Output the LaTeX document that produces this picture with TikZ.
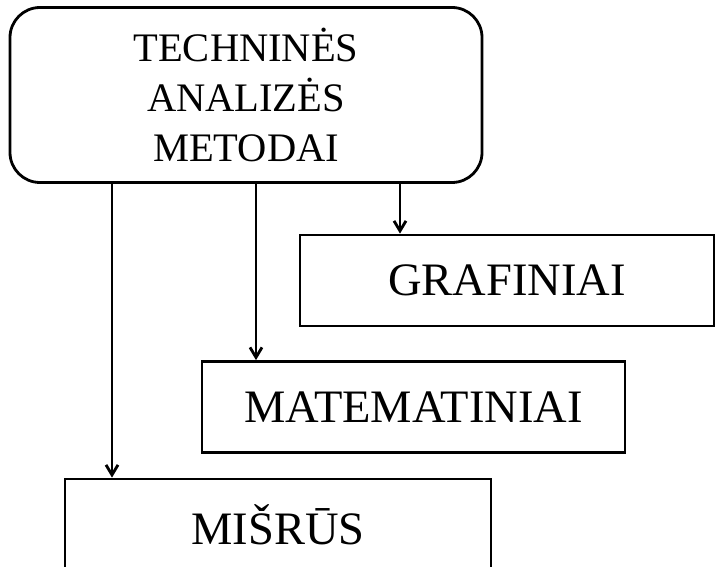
\documentclass[tikz,border=0pt]{standalone}
\usepackage{fontspec}
\setmainfont{Liberation Serif}
\usetikzlibrary{arrows.meta}
\begin{document}
\begin{tikzpicture}[x=1pt,y=-1pt,>={Straight Barb[length=10pt,width=12pt]},line width=2.8pt,
		box/.style={draw,minimum height=91pt,inner sep=0pt,font=\fontsize{46.5}{55}\selectfont}]
	\useasboundingbox (0,0) rectangle (716,567);
	\node[draw,rounded corners=30pt,minimum width=472pt,minimum height=175pt,align=center,font=\fontsize{40.5}{50}\selectfont] (metodai) at (246,95) {TECHNINĖS\\ANALIZĖS\\METODAI};
	\node[box,minimum width=414pt] (grafiniai) at (507,280.5) {GRAFINIAI};
	\node[box,minimum width=423pt] (matematiniai) at (413.5,407) {MATEMATINIAI};
	\node[box,minimum width=426pt] (misrus) at (278,524.5) {MIŠRŪS};
	\coordinate (a1) at ([xshift=-134pt]metodai.south);
	\coordinate (a2) at ([xshift=10pt]metodai.south);
	\coordinate (a3) at ([xshift=154pt]metodai.south);
	\draw[->] (a1)--(a1 |- misrus.north);
	\draw[->] (a2)--(a2 |- matematiniai.north);
	\draw[->] (a3)--(a3 |- grafiniai.north);
\end{tikzpicture}
\end{document}
